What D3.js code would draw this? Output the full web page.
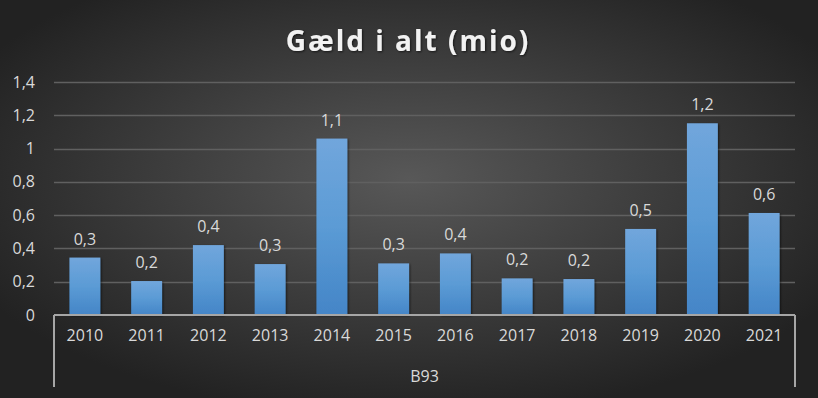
<!DOCTYPE html>
<html>
<head>
<meta charset="utf-8">
<script src="https://cdn.jsdelivr.net/npm/d3@7"></script>
<style>
  html, body { margin: 0; padding: 0; background: #262626; }
  svg { display: block; }
</style>
</head>
<body>
<div id="chart"></div>
<script>
const years = ['2010', '2011', '2012', '2013', '2014', '2015', '2016', '2017', '2018', '2019', '2020', '2021']
const debt = [0.345, 0.204, 0.42, 0.306, 1.06, 0.31, 0.37, 0.22, 0.216, 0.517, 1.152, 0.613]
const yTicks = [0, 0.2, 0.4, 0.6, 0.8, 1, 1.2, 1.4]
const groupLabel = 'B93'
const title = 'Gæld i alt (mio)'

const width = 818
const height = 398
const margin = { top: 82, right: 23, bottom: 83, left: 54 }
const font = "'Open Sans', 'DejaVu Sans', sans-serif"
const textColor = '#d9d9d9'
const labelSize = '16px'

const comma = (v) => d3.format('.1f')(v).replace('.', ',')
const tickFmt = (v) => (v === 0 || v === 1 ? `${v}` : comma(v))

const svg = d3
  .select('#chart')
  .append('svg')
  .attr('width', width)
  .attr('height', height)

const defs = svg.append('defs')

const bg = defs
  .append('radialGradient')
  .attr('id', 'bg')
  .attr('cx', '50%')
  .attr('cy', '45%')
  .attr('r', '60%')
bg.append('stop').attr('offset', '0%').attr('stop-color', '#585858')
bg.append('stop').attr('offset', '100%').attr('stop-color', '#222222')

const barGrad = defs
  .append('linearGradient')
  .attr('id', 'bar')
  .attr('x1', 0)
  .attr('y1', 0)
  .attr('x2', 0)
  .attr('y2', 1)
barGrad.append('stop').attr('offset', '0%').attr('stop-color', '#71a6dc')
barGrad.append('stop').attr('offset', '50%').attr('stop-color', '#5b9bd5')
barGrad.append('stop').attr('offset', '100%').attr('stop-color', '#4485c7')

const shadow = defs.append('filter').attr('id', 'shadow')
shadow
  .append('feDropShadow')
  .attr('dx', 1)
  .attr('dy', 1)
  .attr('stdDeviation', 1.2)
  .attr('flood-color', '#000')
  .attr('flood-opacity', 0.6)

svg
  .append('rect')
  .attr('width', width)
  .attr('height', height)
  .attr('fill', 'url(#bg)')

const x = d3
  .scaleBand()
  .domain(years)
  .range([margin.left, width - margin.right])
  .paddingInner(0.5)
  .paddingOuter(0.25)

const y = d3
  .scaleLinear()
  .domain([0, 1.4])
  .range([height - margin.bottom, margin.top])

// gridlines
svg
  .append('g')
  .selectAll('line')
  .data(yTicks.filter((t) => t > 0))
  .join('line')
  .attr('x1', margin.left)
  .attr('x2', width - margin.right)
  .attr('y1', (d) => Math.round(y(d)) + 0.5)
  .attr('y2', (d) => Math.round(y(d)) + 0.5)
  .attr('stroke', '#606060')
  .attr('stroke-width', 1.5)

// y axis labels
const yAxis = (g) => {
  g.attr('transform', `translate(${margin.left - 16}, 0)`)
    .call(d3.axisLeft(y).tickValues(yTicks).tickFormat(tickFmt).tickSize(0))
    .call((g) => g.select('.domain').remove())
    .call((g) =>
      g
        .selectAll('.tick>text')
        .attr('fill', textColor)
        .style('font-family', font)
        .style('font-size', labelSize)
    )
}
svg.append('g').call(yAxis)

// bars
svg
  .append('g')
  .selectAll('rect')
  .data(debt)
  .join('rect')
  .attr('x', (d, i) => x(years[i]))
  .attr('y', (d) => y(d))
  .attr('width', x.bandwidth())
  .attr('height', (d) => y(0) - y(d))
  .attr('fill', 'url(#bar)')
  .attr('filter', 'url(#shadow)')

// value labels
svg
  .append('g')
  .selectAll('text')
  .data(debt)
  .join('text')
  .attr('x', (d, i) => x(years[i]) + x.bandwidth() / 2)
  .attr('y', (d) => y(d) - 13)
  .attr('text-anchor', 'middle')
  .attr('fill', textColor)
  .style('font-family', font)
  .style('font-size', labelSize)
  .text((d) => comma(d))

// x axis
const x0 = y(0)
const axisG = svg.append('g').attr('stroke', '#a6a6a6').attr('stroke-width', 2)
axisG
  .append('line')
  .attr('x1', margin.left)
  .attr('x2', width - margin.right)
  .attr('y1', x0)
  .attr('y2', x0)
axisG
  .append('line')
  .attr('x1', margin.left)
  .attr('x2', margin.left)
  .attr('y1', x0)
  .attr('y2', 387)
axisG
  .append('line')
  .attr('x1', width - margin.right)
  .attr('x2', width - margin.right)
  .attr('y1', x0)
  .attr('y2', 387)

const xAxis = (g) => {
  g.attr('transform', `translate(0, ${x0})`)
    .call(d3.axisBottom(x).tickSize(0).tickPadding(15))
    .call((g) => g.select('.domain').remove())
    .call((g) =>
      g
        .selectAll('.tick>text')
        .attr('fill', textColor)
        .style('font-family', font)
        .style('font-size', labelSize)
    )
}
svg.append('g').call(xAxis)

svg
  .append('text')
  .attr('x', (margin.left + width - margin.right) / 2)
  .attr('y', 382)
  .attr('text-anchor', 'middle')
  .attr('fill', textColor)
  .style('font-family', font)
  .style('font-size', labelSize)
  .text(groupLabel)

// title
svg
  .append('text')
  .attr('x', 408)
  .attr('y', 51)
  .attr('text-anchor', 'middle')
  .attr('fill', '#f2f2f2')
  .attr('filter', 'url(#shadow)')
  .style('font-family', font)
  .style('font-size', '28px')
  .style('font-weight', 'bold')
  .style('letter-spacing', '2px')
  .text(title)
</script>
</body>
</html>
